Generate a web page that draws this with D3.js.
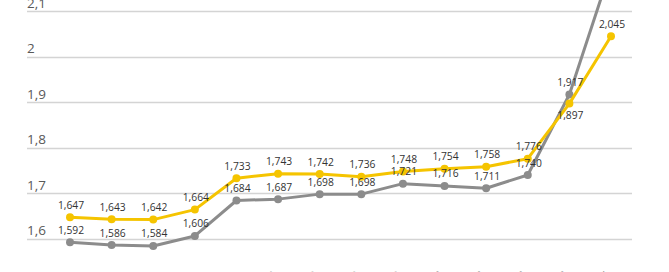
<!DOCTYPE html>
<html>
<head>
<meta charset="utf-8">
<script src="https://cdn.jsdelivr.net/npm/d3@7"></script>
<style>
  body { margin: 0; background: #fff; }
  svg { display: block; font-family: "Open Sans", sans-serif; }
</style>
</head>
<body>
<div id="chart"></div>
<script>
// categories (weekly dates) and the two price series
const categories = ['03.01.', '10.01.', '17.01.', '24.01.', '31.01.', '07.02.', '14.02.',
    '21.02.', '28.02.', '07.03.', '14.03.', '21.03.', '28.03.', '04.04.'];
const superValues = [1.647, 1.643, 1.642, 1.664, 1.733, 1.743, 1.742, 1.736, 1.748, 1.754, 1.758, 1.776, 1.897, 2.045];
const dieselValues = [1.592, 1.586, 1.584, 1.606, 1.684, 1.687, 1.698, 1.698, 1.721, 1.716, 1.711, 1.740, 1.917, 2.195];
const yTicks = [1.6, 1.7, 1.8, 1.9, 2, 2.1];

var svgwidth = 669;
var svgheight = 272;

const de = d3.formatLocale({ decimal: ',', thousands: '.', grouping: [3], currency: ['', '€'] });
const fmtVal = de.format('.3f');
const fmtTick = de.format('.2~f');

var svg = d3.select('#chart')
    .append('svg')
    .attr('width', svgwidth)
    .attr('height', svgheight);

var xscale = d3.scalePoint()
    .domain(categories)
    .range([70, 611]);

var yscale = d3.scaleLinear()
    .domain([1.6, 2.1])
    .range([238.7, 11.3]);

// gridlines + tick labels
var grid = svg.append('g');
grid.selectAll('line')
    .data(yTicks)
    .join('line')
    .attr('x1', 27)
    .attr('x2', 632)
    .attr('y1', d => Math.round(yscale(d)) + 0.5)
    .attr('y2', d => Math.round(yscale(d)) + 0.5)
    .attr('stroke', '#d4d4d4')
    .attr('stroke-width', 1.3);
grid.selectAll('text')
    .data(yTicks)
    .join('text')
    .attr('x', 27)
    .attr('y', d => yscale(d) - 3.5)
    .attr('fill', '#595959')
    .style('font-size', '13.5px')
    .text(d => fmtTick(d));

// x labels (mostly below the visible area)
svg.append('g')
    .selectAll('text')
    .data(categories)
    .join('text')
    .attr('transform', d => `translate(${xscale(d) + 2}, 274) rotate(-45)`)
    .attr('text-anchor', 'end')
    .attr('fill', '#595959')
    .style('font-size', '12px')
    .text(d => d);

const series = [
    { name: 'Super', values: superValues, color: '#f5c400', below: [12] },
    { name: 'Diesel', values: dieselValues, color: '#8c8c8c', below: [] }
];

var line = d3.line()
    .x((d, i) => xscale(categories[i]))
    .y(d => yscale(d));

// draw diesel first so super sits on top
[series[1], series[0]].forEach(s => {
    var g = svg.append('g');
    g.append('path')
        .datum(s.values)
        .attr('d', line)
        .attr('fill', 'none')
        .attr('stroke', s.color)
        .attr('stroke-width', 3)
        .attr('stroke-linejoin', 'round');
    g.selectAll('circle')
        .data(s.values)
        .join('circle')
        .attr('cx', (d, i) => xscale(categories[i]))
        .attr('cy', d => yscale(d))
        .attr('r', 4)
        .attr('fill', s.color);
});

series.forEach(s => {
    svg.append('g')
        .selectAll('text')
        .data(s.values)
        .join('text')
        .attr('x', (d, i) => xscale(categories[i]) + 1)
        .attr('y', (d, i) => s.below.includes(i) ? yscale(d) + 15 : yscale(d) - 8.5)
        .attr('text-anchor', 'middle')
        .attr('fill', '#333333')
        .style('font-size', '10.3px')
        .text(d => fmtVal(d));
});
</script>
</body>
</html>
